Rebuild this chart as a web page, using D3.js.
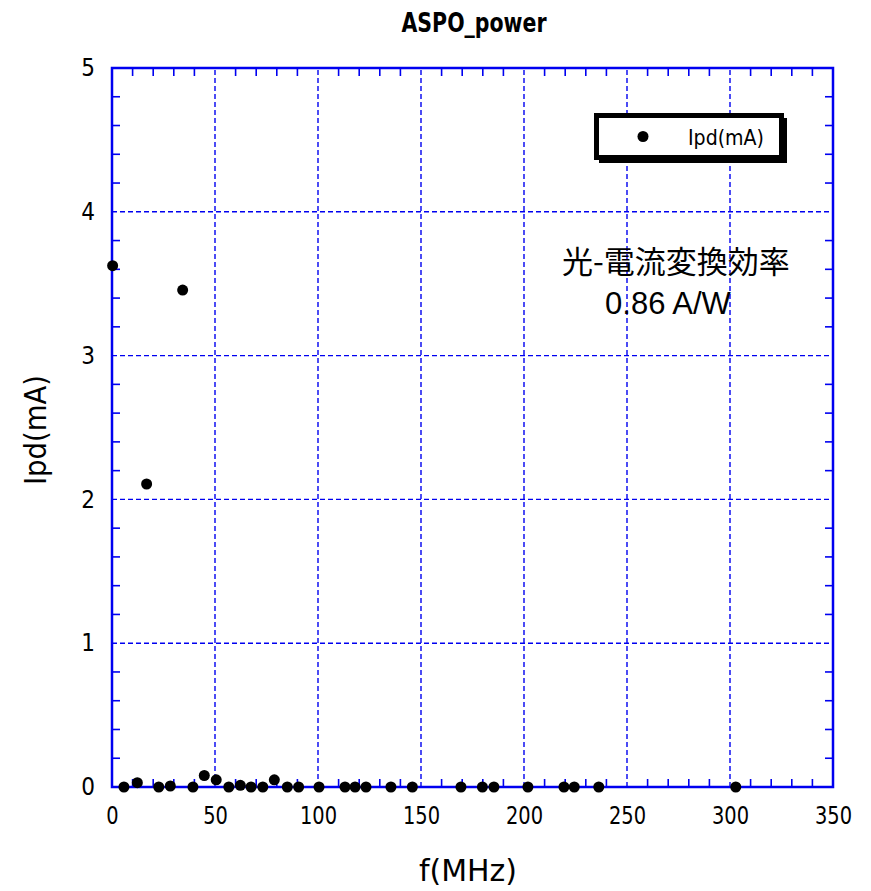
<!DOCTYPE html>
<html><head><meta charset="utf-8">
<script src="https://cdn.jsdelivr.net/npm/d3@7"></script>
<style>body{margin:0;background:#fff;} svg{display:block;}</style>
</head><body>
<svg id="chart" width="871" height="891"></svg>
<script>
const freqMHz = [0.3, 5.8, 12.3, 16.8, 22.7, 28.3, 34.3, 39.3, 44.8, 50.6, 56.7, 62.3, 67.5, 73.2, 78.8, 85.1, 90.6, 100.5, 113.1, 118.0, 123.3, 135.4, 145.8, 169.4, 179.8, 185.4, 201.9, 219.4, 224.4, 236.3, 302.8];
const ipd_mA =  [3.625, 0, 0.03, 2.107, 0, 0.007, 3.456, 0, 0.08, 0.05, 0, 0.012, 0, 0, 0.05, 0, 0, 0, 0, 0, 0, 0, 0, 0, 0, 0, 0, 0, 0, 0, 0];
const xTicks = [0, 50, 100, 150, 200, 250, 300, 350];
const yTicks = [0, 1, 2, 3, 4, 5];
const titleText = "ASPO_power";
const xLabel = "f(MHz)";
const yLabel = "Ipd(mA)";
const legendLabel = "Ipd(mA)";
const noteLines = ["光-電流変換効率", "0.86 A/W"];

const svg = d3.select("#chart");
const m = {left:112, right:38, top:68, bottom:104};
const W = 871 - m.left - m.right, H = 891 - m.top - m.bottom;
const x = d3.scaleLinear().domain([0,350]).range([m.left, m.left+W]);
const y = d3.scaleLinear().domain([0,5]).range([m.top+H, m.top]);
const blue = "#0000f0";
const numFont = "'DejaVu Sans Condensed', 'DejaVu Sans', sans-serif";

// grid
svg.append("g").selectAll("line").data(xTicks.slice(1,-1)).join("line")
  .attr("x1", d=>x(d)).attr("x2", d=>x(d)).attr("y1", y(0)).attr("y2", y(5))
  .attr("stroke", blue).attr("stroke-width", 1.4).attr("stroke-dasharray", "5,3");
svg.append("g").selectAll("line").data(yTicks.slice(1,-1)).join("line")
  .attr("y1", d=>y(d)).attr("y2", d=>y(d)).attr("x1", x(0)).attr("x2", x(350))
  .attr("stroke", blue).attr("stroke-width", 1.4).attr("stroke-dasharray", "5,3");

// minor ticks
const xMinor = d3.range(0, 351, 10).filter(v => v % 50 !== 0);
const yMinor = d3.range(0, 5.001, 0.2).map(v=>+v.toFixed(1)).filter(v => Math.abs(v - Math.round(v)) > 1e-6);
const tl = 8;
const tg = svg.append("g").attr("stroke", blue).attr("stroke-width", 1.6);
xMinor.forEach(v => {
  tg.append("line").attr("x1", x(v)).attr("x2", x(v)).attr("y1", y(0)).attr("y2", y(0)-tl);
  tg.append("line").attr("x1", x(v)).attr("x2", x(v)).attr("y1", y(5)).attr("y2", y(5)+tl);
});
yMinor.forEach(v => {
  tg.append("line").attr("y1", y(v)).attr("y2", y(v)).attr("x1", x(0)).attr("x2", x(0)+tl);
  tg.append("line").attr("y1", y(v)).attr("y2", y(v)).attr("x1", x(350)).attr("x2", x(350)-tl);
});

// frame
svg.append("rect").attr("x", x(0)).attr("y", y(5)).attr("width", W).attr("height", H)
  .attr("fill", "none").attr("stroke", blue).attr("stroke-width", 2.5);

// tick labels via d3 axes
const xAxis = svg.append("g").attr("transform", `translate(0,${y(0)})`)
  .call(d3.axisBottom(x).tickValues(xTicks).tickSize(0).tickPadding(20).tickFormat(d3.format("d")));
xAxis.select(".domain").remove();
xAxis.selectAll("text").attr("font-family", numFont).attr("font-size", 24).attr("fill", "#000")
  .attr("transform", "scale(0.9,1)");
const yAxis = svg.append("g").attr("transform", `translate(${x(0)},0)`)
  .call(d3.axisLeft(y).tickValues(yTicks).tickSize(0).tickPadding(19).tickFormat(d3.format("d")));
yAxis.select(".domain").remove();
yAxis.selectAll("text").attr("font-family", numFont).attr("font-size", 24).attr("fill", "#000")
  .attr("text-anchor", "middle").attr("x", -24);

// points
svg.append("g").selectAll("circle").data(freqMHz.map((f,i)=>({f, v: ipd_mA[i]}))).join("circle")
  .attr("cx", d=>x(d.f)).attr("cy", d=>y(d.v)).attr("r", 5.5).attr("fill", "#000");

// title
svg.append("text").attr("x", 474).attr("y", 32).attr("text-anchor", "middle")
  .attr("font-family", numFont).attr("font-weight", "bold").attr("font-size", 27)
  .attr("textLength", 145).attr("lengthAdjust", "spacingAndGlyphs").text(titleText);

// axis titles
svg.append("text").attr("x", 468).attr("y", 881).attr("text-anchor", "middle")
  .attr("font-family", numFont).attr("font-size", 31)
  .attr("textLength", 98).attr("lengthAdjust", "spacingAndGlyphs").text(xLabel);
svg.append("text").attr("transform", "translate(46,430) rotate(-90)").attr("text-anchor", "middle")
  .attr("font-family", numFont).attr("font-size", 31)
  .attr("textLength", 110).attr("lengthAdjust", "spacingAndGlyphs").text(yLabel);

// legend
const lg = svg.append("g");
lg.append("rect").attr("x", 599).attr("y", 118).attr("width", 188).attr("height", 45).attr("fill", "#000");
lg.append("rect").attr("x", 596.5).attr("y", 115.5).attr("width", 185).attr("height", 42)
  .attr("fill", "#fff").attr("stroke", "#000").attr("stroke-width", 5);
lg.append("circle").attr("cx", 643).attr("cy", 136.5).attr("r", 5.5).attr("fill", "#000");
lg.append("text").attr("x", 688).attr("y", 145).attr("font-family", numFont).attr("font-size", 22)
  .attr("textLength", 76).attr("lengthAdjust", "spacingAndGlyphs").text(legendLabel);

// annotation
svg.append("text").attr("x", 676).attr("y", 273).attr("text-anchor", "middle")
  .attr("font-family", "'Noto Sans CJK JP', sans-serif").attr("font-size", 31).text(noteLines[0]);
svg.append("text").attr("x", 668).attr("y", 314).attr("text-anchor", "middle")
  .attr("font-family", "'Liberation Sans', Arial, sans-serif").attr("font-size", 31).text(noteLines[1]);
</script>
</body></html>
